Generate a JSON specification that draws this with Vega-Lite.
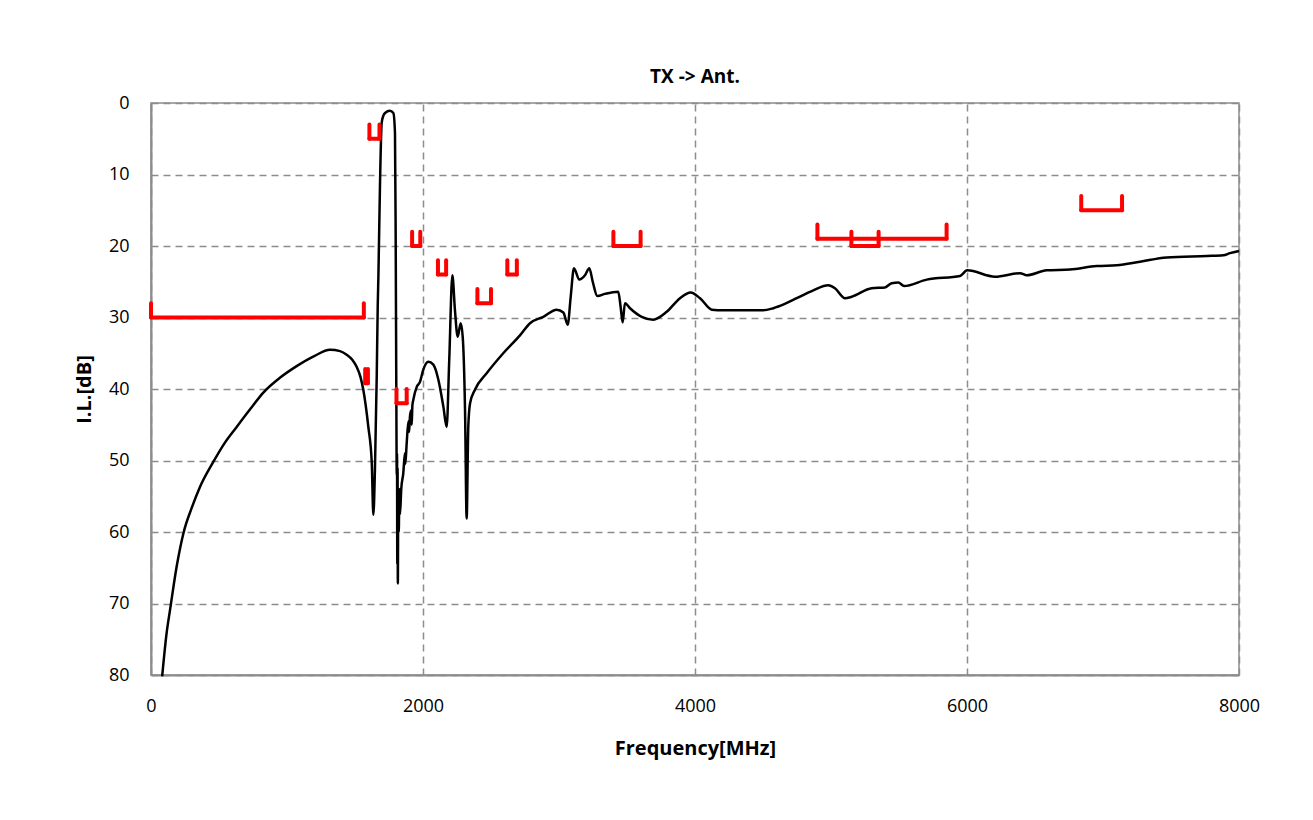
{
  "$schema": "https://vega.github.io/schema/vega-lite/v6.json",
  "width": 1088,
  "height": 572,
  "autosize": {"type": "none"},
  "padding": {"left": 151, "top": 103, "right": 74, "bottom": 145},
  "background": "white",
  "title": {"text": "TX -> Ant.", "fontSize": 19, "font": "Open Sans", "fontWeight": "bold", "color": "#000000", "offset": 7},
  "config": {
    "view": {"stroke": "#8c8c8c", "strokeWidth": 1.5},
    "axis": {
      "labelFont": "Open Sans", "labelFontSize": 18, "labelColor": "#000000", "labelFlush": false,
      "titleFont": "Open Sans", "titleFontSize": 20, "titleFontWeight": "bold", "titleColor": "#000000",
      "ticks": false, "domainColor": "#8c8c8c", "domainWidth": 2,
      "gridColor": "#8c8c8c", "gridDash": [7, 5], "gridWidth": 1.5, "gridOpacity": 1
    }
  },
  "datasets": {
    "curve": [
      {"f": 82, "il": 80.2}, {"f": 115, "il": 74.1}, {"f": 140, "il": 70.9}, {"f": 189, "il": 64.8},
      {"f": 238, "il": 60.2}, {"f": 300, "il": 56.6}, {"f": 360, "il": 53.7}, {"f": 458, "il": 50.2},
      {"f": 540, "il": 47.6}, {"f": 630, "il": 45.3}, {"f": 730, "il": 42.8}, {"f": 826, "il": 40.5},
      {"f": 950, "il": 38.4}, {"f": 1071, "il": 36.8}, {"f": 1200, "il": 35.4}, {"f": 1316, "il": 34.5},
      {"f": 1390, "il": 34.7}, {"f": 1439, "il": 35.2}, {"f": 1480, "il": 35.9}, {"f": 1512, "il": 36.9},
      {"f": 1540, "il": 38.3}, {"f": 1561, "il": 40.1}, {"f": 1598, "il": 45.3}, {"f": 1623, "il": 50.2},
      {"f": 1635, "il": 57.6}, {"f": 1647, "il": 50.9}, {"f": 1660, "il": 38.0}, {"f": 1667, "il": 28.5},
      {"f": 1672, "il": 24.3}, {"f": 1684, "il": 11.2}, {"f": 1696, "il": 2.8}, {"f": 1708, "il": 1.8},
      {"f": 1721, "il": 1.4}, {"f": 1757, "il": 1.1}, {"f": 1782, "il": 1.4}, {"f": 1794, "il": 4.2},
      {"f": 1799, "il": 18.2}, {"f": 1804, "il": 41.5}, {"f": 1807, "il": 52.0}, {"f": 1809, "il": 49.0},
      {"f": 1811, "il": 64.5}, {"f": 1813, "il": 51.0}, {"f": 1815, "il": 67.2}, {"f": 1818, "il": 56.0},
      {"f": 1822, "il": 60.0}, {"f": 1826, "il": 54.0}, {"f": 1831, "il": 57.5}, {"f": 1840, "il": 54.0},
      {"f": 1855, "il": 51.8}, {"f": 1867, "il": 49.0}, {"f": 1870, "il": 50.5}, {"f": 1880, "il": 47.6},
      {"f": 1893, "il": 44.5}, {"f": 1898, "il": 46.0}, {"f": 1904, "il": 43.9}, {"f": 1912, "il": 43.0},
      {"f": 1917, "il": 45.0}, {"f": 1922, "il": 42.3}, {"f": 1929, "il": 41.5}, {"f": 1954, "il": 39.7},
      {"f": 1978, "il": 39.0}, {"f": 2002, "il": 37.3}, {"f": 2039, "il": 36.2}, {"f": 2076, "il": 36.6},
      {"f": 2113, "il": 38.7}, {"f": 2150, "il": 42.5}, {"f": 2174, "il": 45.3}, {"f": 2193, "il": 35.9},
      {"f": 2216, "il": 24.1}, {"f": 2235, "il": 29.0}, {"f": 2255, "il": 32.7}, {"f": 2277, "il": 30.8},
      {"f": 2292, "il": 32.7}, {"f": 2309, "il": 42.9}, {"f": 2321, "il": 58.1}, {"f": 2333, "il": 45.3},
      {"f": 2346, "il": 42.0}, {"f": 2382, "il": 40.1}, {"f": 2468, "il": 37.8}, {"f": 2590, "il": 35.0},
      {"f": 2713, "il": 32.5}, {"f": 2787, "il": 30.8}, {"f": 2885, "il": 29.9}, {"f": 2983, "il": 28.9},
      {"f": 3032, "il": 29.3}, {"f": 3064, "il": 31.0}, {"f": 3086, "il": 27.1}, {"f": 3110, "il": 23.1},
      {"f": 3149, "il": 24.7}, {"f": 3191, "il": 24.1}, {"f": 3223, "il": 23.1}, {"f": 3248, "il": 25.0},
      {"f": 3282, "il": 27.0}, {"f": 3338, "il": 26.7}, {"f": 3436, "il": 26.4}, {"f": 3453, "il": 28.5},
      {"f": 3468, "il": 30.7}, {"f": 3485, "il": 28.0}, {"f": 3522, "il": 28.7}, {"f": 3608, "il": 29.9},
      {"f": 3693, "il": 30.3}, {"f": 3792, "il": 29.2}, {"f": 3890, "il": 27.3}, {"f": 3968, "il": 26.5},
      {"f": 4037, "il": 27.3}, {"f": 4123, "il": 28.9}, {"f": 4208, "il": 29.0}, {"f": 4502, "il": 29.0},
      {"f": 4576, "il": 28.7}, {"f": 4660, "il": 28.1}, {"f": 4748, "il": 27.3}, {"f": 4870, "il": 26.2},
      {"f": 4980, "il": 25.5}, {"f": 5029, "il": 25.9}, {"f": 5103, "il": 27.3}, {"f": 5152, "il": 27.1},
      {"f": 5299, "il": 25.9}, {"f": 5397, "il": 25.8}, {"f": 5446, "il": 25.2}, {"f": 5495, "il": 25.1},
      {"f": 5537, "il": 25.6}, {"f": 5704, "il": 24.7}, {"f": 5949, "il": 24.2}, {"f": 6002, "il": 23.4},
      {"f": 6206, "il": 24.3}, {"f": 6390, "il": 23.8}, {"f": 6439, "il": 24.1}, {"f": 6586, "il": 23.4},
      {"f": 6757, "il": 23.3}, {"f": 6954, "il": 22.8}, {"f": 7101, "il": 22.7}, {"f": 7272, "il": 22.2},
      {"f": 7468, "il": 21.6}, {"f": 7763, "il": 21.4}, {"f": 7885, "il": 21.3}, {"f": 7934, "il": 21.0},
      {"f": 8000, "il": 20.7}
    ],
    "brackets": [
      {"f1": 0, "f2": 1565, "level": 30, "top": 28},
      {"f1": 1575, "f2": 1595, "level": 39.2, "top": 37.2},
      {"f1": 1606, "f2": 1680, "level": 5, "top": 3},
      {"f1": 1805, "f2": 1880, "level": 42, "top": 40},
      {"f1": 1920, "f2": 1980, "level": 20, "top": 18},
      {"f1": 2110, "f2": 2170, "level": 24, "top": 22},
      {"f1": 2400, "f2": 2500, "level": 28, "top": 26},
      {"f1": 2620, "f2": 2690, "level": 24, "top": 22},
      {"f1": 3400, "f2": 3600, "level": 20, "top": 18},
      {"f1": 4900, "f2": 5850, "level": 19, "top": 17},
      {"f1": 5150, "f2": 5350, "level": 20, "top": 18},
      {"f1": 6840, "f2": 7140, "level": 15, "top": 13}
    ]
  },
  "layer": [
    {
      "data": {"name": "curve"},
      "mark": {"type": "line", "color": "#000000", "strokeWidth": 2.5, "strokeJoin": "round", "interpolate": "monotone"},
      "encoding": {
        "x": {"field": "f", "type": "quantitative", "scale": {"domain": [0, 8000], "nice": false},
              "axis": {"values": [0, 2000, 4000, 6000, 8000], "format": "d", "title": "Frequency[MHz]", "labelPadding": 22, "titlePadding": 23}},
        "y": {"field": "il", "type": "quantitative", "scale": {"domain": [0, 80], "reverse": true, "nice": false},
              "axis": {"values": [0, 10, 20, 30, 40, 50, 60, 70, 80], "title": "I.L.[dB]", "labelPadding": 22, "titlePadding": 14}}
      }
    },
    {
      "data": {"name": "brackets"},
      "mark": {"type": "rule", "color": "#ff0000", "strokeWidth": 4, "strokeCap": "round"},
      "encoding": {
        "x": {"field": "f1", "type": "quantitative"},
        "x2": {"field": "f2"},
        "y": {"field": "level", "type": "quantitative"}
      }
    },
    {
      "data": {"name": "brackets"},
      "mark": {"type": "rule", "color": "#ff0000", "strokeWidth": 4, "strokeCap": "round"},
      "encoding": {
        "x": {"field": "f1", "type": "quantitative"},
        "y": {"field": "level", "type": "quantitative"},
        "y2": {"field": "top"}
      }
    },
    {
      "data": {"name": "brackets"},
      "mark": {"type": "rule", "color": "#ff0000", "strokeWidth": 4, "strokeCap": "round"},
      "encoding": {
        "x": {"field": "f2", "type": "quantitative"},
        "y": {"field": "level", "type": "quantitative"},
        "y2": {"field": "top"}
      }
    }
  ]
}
